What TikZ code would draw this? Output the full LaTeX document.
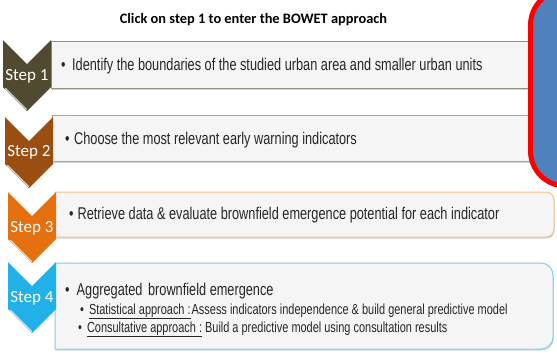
\documentclass[tikz,border=0pt]{standalone}
\usepackage{fontspec}
\setmainfont{Carlito}
\newfontfamily\bodyfont[FakeStretch=0.75]{Liberation Sans}
\usetikzlibrary{shadows}

\definecolor{stepA}{HTML}{4F4A30}
\definecolor{stepB}{HTML}{9A4E12}
\definecolor{stepC}{HTML}{E5700F}
\definecolor{stepD}{HTML}{22B0E8}
\definecolor{lineA}{HTML}{968E7C}
\definecolor{lineB}{HTML}{CF9A6C}
\definecolor{lineC}{HTML}{F6C28E}
\definecolor{lineD}{HTML}{7CD0F0}
\definecolor{boxfill}{HTML}{F5F5F5}
\definecolor{panelblue}{HTML}{4F81BD}
\definecolor{txt}{HTML}{262626}

\begin{document}
\begin{tikzpicture}[
    x=1pt, y=1pt,
    title/.style={font=\fontsize{14.4}{17}\selectfont\bfseries, text=black},
    chev/.style={fill=#1},
    gloss/.style={draw=white, line width=1.2pt, opacity=0.75, line cap=round},
    steplbl/.style={font=\fontsize{17}{20}\selectfont, text=white, anchor=base, inner sep=0pt},
    boxarea/.style={inner sep=0pt, outer sep=0pt},
    stepbox/.style={fill=boxfill, line width=1pt, inner sep=0pt, outer sep=0pt,
        drop shadow={shadow xshift=0.6pt, shadow yshift=-1.6pt, opacity=0.35}},
    itemtxt/.style={font=\bodyfont\fontsize{17}{20}\selectfont, text=txt, anchor=base west, inner sep=0pt},
    subtxt/.style={itemtxt, font=\bodyfont\fontsize{14.6}{17}\selectfont},
    panel/.style={draw=red, line width=5pt, fill=panelblue, rounded corners=35pt}
]
\useasboundingbox (0,0) rectangle (557,-354);

% Title
\node[title] (title) at (253.5,-20) {Click on step 1 to enter the BOWET approach};

% Boxes
\node[stepbox, draw=lineA, minimum width=514pt, minimum height=47pt] (b1) at (308,-64.5) {};
\node[stepbox, draw=lineB, minimum width=513pt, minimum height=46pt] (b2) at (308.5,-138) {};
\node[boxarea, minimum width=499pt, minimum height=45pt] (b3) at (304.5,-214.5) {};
\node[boxarea, minimum width=498pt, minimum height=86pt] (b4) at (304,-306) {};
\draw[stepbox, draw=lineC] (b3.north west) -- ([xshift=-8pt]b3.north east)
    arc[start angle=90, end angle=0, radius=8pt] -- ([yshift=8pt]b3.south east)
    arc[start angle=0, end angle=-90, radius=8pt] -- (b3.south west) -- cycle;
\draw[stepbox, draw=lineD] (b4.north west) -- ([xshift=-12pt]b4.north east)
    arc[start angle=90, end angle=0, radius=12pt] -- ([yshift=12pt]b4.south east)
    arc[start angle=0, end angle=-90, radius=12pt] -- (b4.south west) -- cycle;

% Texts
\node[itemtxt] (t1) at ([xshift=10pt, yshift=-6pt]b1.west) {•\hspace{6.5pt}Identify the boundaries of the studied urban area and smaller urban units};
\node[itemtxt] (t2) at ([xshift=13pt, yshift=-6.5pt]b2.west) {•\hspace{4.5pt}Choose the most relevant early warning indicators};
\node[itemtxt] (t3) at ([xshift=14pt, yshift=-4.5pt]b3.west) {•\hspace{4pt}Retrieve data \& evaluate brownfield emergence potential for each indicator};
\node[itemtxt] (t4) at ([xshift=10pt, yshift=11pt]b4.west) {•\hspace{7pt}Aggregated\hspace{2pt} brownfield emergence};
\node[subtxt] (t4s) at ([xshift=25pt, yshift=-8pt]b4.west) {•\hspace{5pt}\underline{Statistical approach :}\hspace{1pt}Assess indicators independence \& build general predictive model};
\node[subtxt] (t4c) at ([xshift=23pt, yshift=-26pt]b4.west) {•\hspace{5pt}\underline{Consultative approach :} Build a predictive model using consultation results};

% Chevrons
\fill[chev=stepA] (3,-40) -- ++(24,-24) -- ++(24,24) -- ++(0,-47) -- ++(-24,-24) -- ++(-24,24) -- cycle;
\fill[chev=stepB] (5,-117) -- ++(24,-24) -- ++(24,24) -- ++(0,-47) -- ++(-24,-24) -- ++(-24,24) -- cycle;
\fill[chev=stepC] (8,-192) -- ++(24,-24) -- ++(24,24) -- ++(0,-47) -- ++(-24,-24) -- ++(-24,24) -- cycle;
\fill[chev=stepD] (8,-262) -- ++(24,-24) -- ++(24,24) -- ++(0,-47) -- ++(-24,-24) -- ++(-24,24) -- cycle;
\draw[gloss] (5.5,-88.5) -- ++(21,-21);
\draw[gloss] (7.5,-165.5) -- ++(21,-21);
\draw[gloss] (10.5,-240.5) -- ++(21,-21);
\draw[gloss] (10.5,-310.5) -- ++(21,-21);

\node[steplbl] (s1) at (27,-80) {Step 1};
\node[steplbl] (s2) at (29,-156) {Step 2};
\node[steplbl] (s3) at (32,-232) {Step 3};
\node[steplbl] (s4) at (32,-302) {Step 4};

% Side panel
\draw[panel] (530.5,10) -- (530.5,-186) -- (610,-186) -- (610,10) -- cycle;

\end{tikzpicture}
\end{document}
